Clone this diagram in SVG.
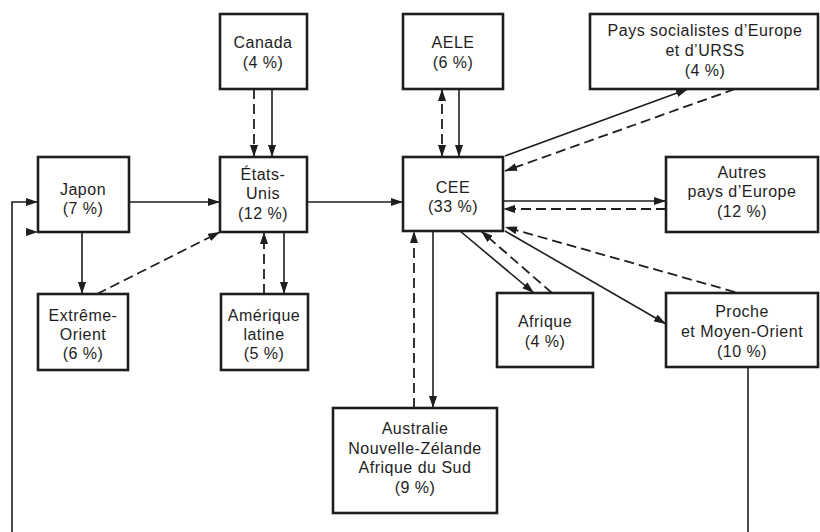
<svg xmlns="http://www.w3.org/2000/svg" width="820" height="532" viewBox="0 0 820 532">
<style>
.box{fill:#fff;stroke:#1e1e1e;stroke-width:2.6}
.lbl{font-family:"Liberation Sans",Arial,sans-serif;font-size:16px;letter-spacing:0.5px;fill:#1e1e1e;text-anchor:middle}
.s{fill:none;stroke:#1e1e1e;stroke-width:1.6}
.d{fill:none;stroke:#1e1e1e;stroke-width:1.8;stroke-dasharray:10 5}
</style>
<defs>
<marker id="ah" viewBox="0 0 12 8" refX="12" refY="4" markerWidth="12" markerHeight="8" markerUnits="userSpaceOnUse" orient="auto-start-reverse">
<path d="M0,0 L12,4 L0,8 z" fill="#1e1e1e"/>
</marker>
</defs>
<rect width="820" height="532" fill="#fff"/>
<g id="connectors">
<path class="d" d="M254,89 V157" marker-end="url(#ah)"/>
<path class="s" d="M272,89 V157" marker-end="url(#ah)"/>
<path class="s" d="M129,202 H220" marker-end="url(#ah)"/>
<path class="s" d="M307,202 H403" marker-end="url(#ah)"/>
<path class="s" d="M82,232 V294" marker-end="url(#ah)"/>
<path class="d" d="M97,294 L220,232" marker-end="url(#ah)"/>
<path class="d" d="M264,294 V232" marker-end="url(#ah)"/>
<path class="s" d="M284,232 V294" marker-end="url(#ah)"/>
<path class="d" d="M442,89 V157" marker-start="url(#ah)" marker-end="url(#ah)"/>
<path class="s" d="M459,89 V157" marker-end="url(#ah)"/>
<path class="s" d="M505,156 L688,89" marker-end="url(#ah)"/>
<path class="d" d="M735,89 L505,171" marker-end="url(#ah)"/>
<path class="s" d="M503,201 H666" marker-end="url(#ah)"/>
<path class="d" d="M666,209 H503" marker-end="url(#ah)"/>
<path class="d" d="M735,292 L505,227" marker-end="url(#ah)"/>
<path class="s" d="M505,231 L666,324" marker-end="url(#ah)"/>
<path class="s" d="M460,231 L534,293" marker-end="url(#ah)"/>
<path class="d" d="M552,293 L481,231" marker-end="url(#ah)"/>
<path class="d" d="M414,408 V231" marker-end="url(#ah)"/>
<path class="s" d="M433,231 V408" marker-end="url(#ah)"/>
<path class="s" d="M12,532 V202 H38" marker-end="url(#ah)"/>
<path d="M26,228 L38,232 L26,236 z" fill="#1e1e1e"/>
<path class="s" d="M748,367 V532"/>
</g>
<g id="canada"><rect class="box" x="220" y="14" width="87" height="75"/><text class="lbl" x="263" y="48">Canada</text><text class="lbl" x="263" y="68">(4 %)</text></g>
<g id="aele"><rect class="box" x="403" y="14" width="100" height="75"/><text class="lbl" x="453" y="48">AELE</text><text class="lbl" x="453" y="68">(6 %)</text></g>
<g id="pays-socialistes"><rect class="box" x="590" y="14" width="228" height="75"/><text class="lbl" x="705" y="36">Pays socialistes d’Europe</text><text class="lbl" x="705" y="56">et d’URSS</text><text class="lbl" x="705" y="76">(4 %)</text></g>
<g id="japon"><rect class="box" x="38" y="157" width="91" height="75"/><text class="lbl" x="83" y="195">Japon</text><text class="lbl" x="83" y="214">(7 %)</text></g>
<g id="etats-unis"><rect class="box" x="220" y="157" width="87" height="75"/><text class="lbl" x="263" y="180">États-</text><text class="lbl" x="263" y="199">Unis</text><text class="lbl" x="263" y="219">(12 %)</text></g>
<g id="cee"><rect class="box" x="403" y="157" width="100" height="74"/><text class="lbl" x="453" y="193">CEE</text><text class="lbl" x="453" y="212">(33 %)</text></g>
<g id="autres-europe"><rect class="box" x="666" y="157" width="152" height="75"/><text class="lbl" x="742" y="178">Autres</text><text class="lbl" x="742" y="197">pays d’Europe</text><text class="lbl" x="742" y="217">(12 %)</text></g>
<g id="extreme-orient"><rect class="box" x="38" y="294" width="90" height="76"/><text class="lbl" x="83" y="321">Extrême-</text><text class="lbl" x="83" y="340">Orient</text><text class="lbl" x="83" y="359">(6 %)</text></g>
<g id="amerique-latine"><rect class="box" x="221" y="294" width="87" height="76"/><text class="lbl" x="264" y="321">Amérique</text><text class="lbl" x="264" y="340">latine</text><text class="lbl" x="264" y="359">(5 %)</text></g>
<g id="afrique"><rect class="box" x="497" y="293" width="96" height="74"/><text class="lbl" x="545" y="327">Afrique</text><text class="lbl" x="545" y="347">(4 %)</text></g>
<g id="proche-orient"><rect class="box" x="666" y="293" width="152" height="74"/><text class="lbl" x="742" y="317">Proche</text><text class="lbl" x="742" y="337">et Moyen-Orient</text><text class="lbl" x="742" y="357">(10 %)</text></g>
<g id="australie"><rect class="box" x="333" y="408" width="164" height="105"/><text class="lbl" x="415" y="434">Australie</text><text class="lbl" x="415" y="454">Nouvelle-Zélande</text><text class="lbl" x="415" y="473">Afrique du Sud</text><text class="lbl" x="415" y="493">(9 %)</text></g>
</svg>
